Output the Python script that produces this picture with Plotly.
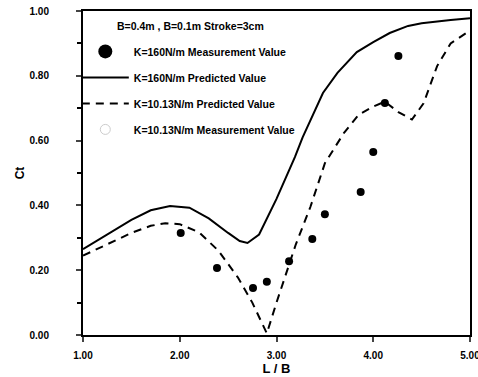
import plotly.graph_objects as go

# K=160 N/m measurement values
meas_x = [2.01, 2.385, 2.757, 2.90, 3.13, 3.37, 3.50, 3.87, 4.00, 4.12, 4.26]
meas_y = [0.315, 0.207, 0.145, 0.164, 0.228, 0.296, 0.373, 0.441, 0.565, 0.716, 0.861]

# K=160 N/m predicted values
pred160_x = [1.0, 1.25, 1.5, 1.7, 1.9, 2.1, 2.3, 2.5, 2.62, 2.70, 2.82, 3.0, 3.19, 3.27,
             3.35, 3.48, 3.63, 3.83, 4.0, 4.17, 4.36, 4.5, 4.8, 5.0]
pred160_y = [0.265, 0.31, 0.355, 0.385, 0.398, 0.393, 0.36, 0.315, 0.29, 0.284, 0.31, 0.42,
             0.549, 0.61, 0.664, 0.747, 0.809, 0.873, 0.904, 0.932, 0.954, 0.962, 0.972, 0.978]

# K=10.13 N/m predicted values
pred10_x = [1.0, 1.25, 1.5, 1.7, 1.85, 2.0, 2.2, 2.4, 2.6, 2.75, 2.9, 3.0, 3.1, 3.2, 3.35,
            3.5, 3.7, 3.85, 4.0, 4.12, 4.26, 4.4, 4.52, 4.66, 4.8, 5.0]
pred10_y = [0.245, 0.28, 0.315, 0.337, 0.345, 0.342, 0.317, 0.26, 0.178, 0.10, 0.005, 0.10,
            0.19, 0.28, 0.395, 0.53, 0.625, 0.68, 0.705, 0.72, 0.688, 0.665, 0.715, 0.83,
            0.90, 0.94]

# K=10.13 N/m measurement values (not visible in the chart)
meas10_x = [None]
meas10_y = [None]

x_ticks = [1, 2, 3, 4, 5]
x_tick_labels = ["1.00", "2.00", "3.00", "4.00", "5.00"]
y_ticks = [0.0, 0.2, 0.4, 0.6, 0.8, 1.0]
y_tick_labels = ["0.00", "0.20", "0.40", "0.60", "0.80", "1.00"]

title_text = "B=0.4m , B=0.1m Stroke=3cm"

fig = go.Figure()

# legend-only big dot
fig.add_trace(go.Scatter(x=[None], y=[None], mode="markers", name="K=160N/m Measurement Value",
                         marker=dict(color="black", size=14), legendgroup="a"))
fig.add_trace(go.Scatter(x=meas_x, y=meas_y, mode="markers", showlegend=False,
                         marker=dict(color="black", size=8), legendgroup="a"))
fig.add_trace(go.Scatter(x=pred160_x, y=pred160_y, mode="lines", name="K=160N/m Predicted Value",
                         line=dict(color="black", width=2), legendgroup="b"))
fig.add_trace(go.Scatter(x=pred10_x, y=pred10_y, mode="lines", name="K=10.13N/m Predicted Value",
                         line=dict(color="black", width=2, dash="8px,6px"), legendgroup="c"))
fig.add_trace(go.Scatter(x=meas10_x, y=meas10_y, mode="markers", name="K=10.13N/m Measurement Value",
                         marker=dict(color="#cccccc", size=10, symbol="circle-open",
                                     line=dict(width=1, color="#bbbbbb")), legendgroup="d"))

fig.add_annotation(x=0.083, y=0.955, xref="paper", yref="paper", text=title_text,
                   showarrow=False, xanchor="left", yanchor="middle",
                   font=dict(size=10.5, family="Liberation Sans", weight="bold", color="black"))

fig.update_layout(
    width=478, height=377,
    margin=dict(l=83, r=8, t=11, b=42),
    paper_bgcolor="white", plot_bgcolor="white",
    font=dict(family="Liberation Sans", color="black"),
    legend=dict(x=-0.016, y=0.92, xanchor="left", yanchor="top", bgcolor="rgba(0,0,0,0)",
                font=dict(size=10.5, weight="bold", family="Liberation Sans"),
                tracegroupgap=7, itemwidth=47),
    showlegend=True,
)
fig.update_xaxes(range=[1, 5], tickvals=x_ticks, ticktext=x_tick_labels, ticks="outside",
                 ticklen=5, tickwidth=1.5, showline=True, linewidth=2, linecolor="black",
                 mirror=True, showgrid=False, zeroline=False, automargin=False,
                 ticklabeloverflow="allow",
                 tickfont=dict(size=10, weight="bold"), ticklabelstandoff=5,
                 title=dict(text="L / B", font=dict(size=13, weight="bold"), standoff=1))
fig.update_yaxes(range=[0, 1], tickvals=y_ticks, ticktext=y_tick_labels, ticks="outside",
                 ticklen=5, tickwidth=1.5, showline=True, linewidth=2, linecolor="black",
                 mirror=True, showgrid=False, zeroline=False, automargin=False,
                 minor=dict(dtick=0.1, ticks="outside", ticklen=4, tickcolor="black"),
                 tickfont=dict(size=10, weight="bold"), ticklabelstandoff=25,
                 title=dict(text="Ct", font=dict(size=12, weight="bold"), standoff=2))

fig.write_html("out.html", post_script="document.body.style.margin='0';",
               config={"displayModeBar": False})
